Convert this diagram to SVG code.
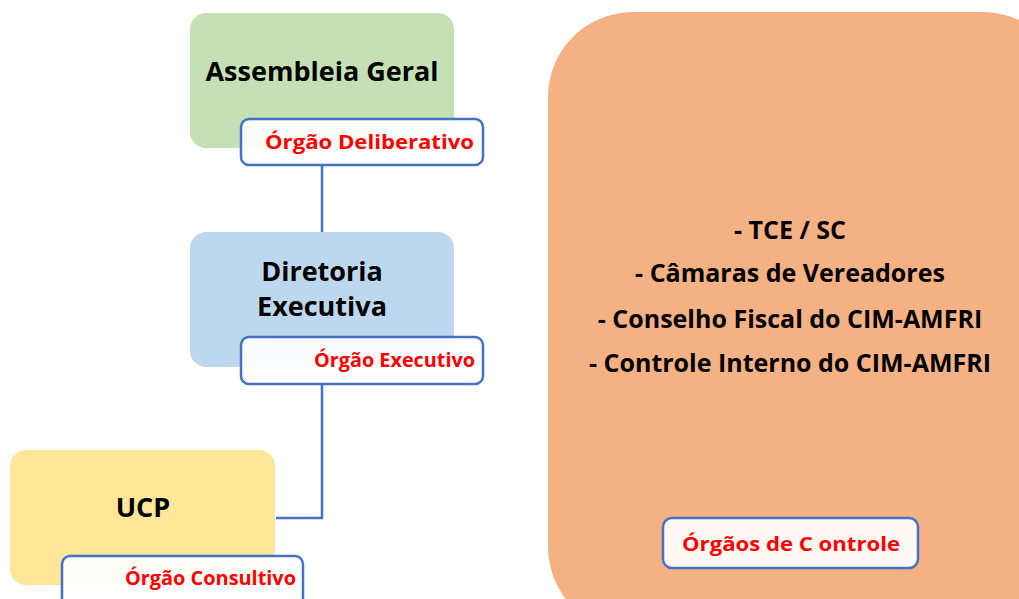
<svg xmlns="http://www.w3.org/2000/svg" width="1019" height="599" viewBox="0 0 1019 599">
<style>
.t{font-family:"Open Sans","Liberation Sans",sans-serif;font-weight:bold;fill:#000;}
.main{font-size:27px;}
.ctl{font-size:25px;}
.lbl{font-family:"Open Sans","Liberation Sans",sans-serif;font-weight:bold;fill:#ff0000;font-size:20px;}
.lb{fill:#ffffff;fill-opacity:0.92;stroke:#4472c4;stroke-width:2.5;}
.conn{fill:none;stroke:#4472c4;stroke-width:2.5;}
</style>
<rect width="1019" height="599" fill="#ffffff"/>
<g id="connectors">
<path class="conn" d="M322,165 V232"/>
<path class="conn" d="M322,384 V518 H276"/>
</g>
<g id="orgaos-controle">
<rect x="548" y="12" width="520" height="620" rx="85" fill="#f4b183"/>
<text class="t ctl" text-anchor="middle" x="790" y="239">- TCE / SC</text>
<text class="t ctl" text-anchor="middle" x="790" y="282">- Câmaras de Vereadores</text>
<text class="t ctl" text-anchor="middle" x="790" y="328">- Conselho Fiscal do CIM-AMFRI</text>
<text class="t ctl" text-anchor="middle" x="790" y="372">- Controle Interno do CIM-AMFRI</text>
<rect class="lb" x="663" y="518" width="255" height="50" rx="9"/>
<text class="lbl" x="682" y="551" font-size="23" textLength="218" lengthAdjust="spacingAndGlyphs">Órgãos de C ontrole</text>
</g>
<g id="assembleia">
<rect x="190" y="13" width="264" height="135" rx="16" fill="#c5e0b4"/>
<text class="t main" x="322" y="81" text-anchor="middle">Assembleia Geral</text>
<rect class="lb" x="241" y="119" width="242" height="46" rx="8"/>
<text class="lbl" x="265" y="149" textLength="209" lengthAdjust="spacingAndGlyphs">Órgão Deliberativo</text>
</g>
<g id="diretoria">
<rect x="190" y="232" width="264" height="135" rx="16" fill="#bdd7ee"/>
<text class="t main" x="322" y="281" text-anchor="middle">Diretoria</text>
<text class="t main" x="322" y="316" text-anchor="middle">Executiva</text>
<rect class="lb" x="241" y="337" width="242" height="47" rx="8"/>
<text class="lbl" x="314" y="367" textLength="161" lengthAdjust="spacingAndGlyphs">Órgão Executivo</text>
</g>
<g id="ucp">
<rect x="10" y="450" width="265" height="135" rx="16" fill="#ffe699"/>
<text class="t main" x="143" y="517" text-anchor="middle">UCP</text>
<rect class="lb" x="62" y="556" width="241" height="60" rx="8"/>
<text class="lbl" x="125" y="585" textLength="171" lengthAdjust="spacingAndGlyphs">Órgão Consultivo</text>
</g>
</svg>
